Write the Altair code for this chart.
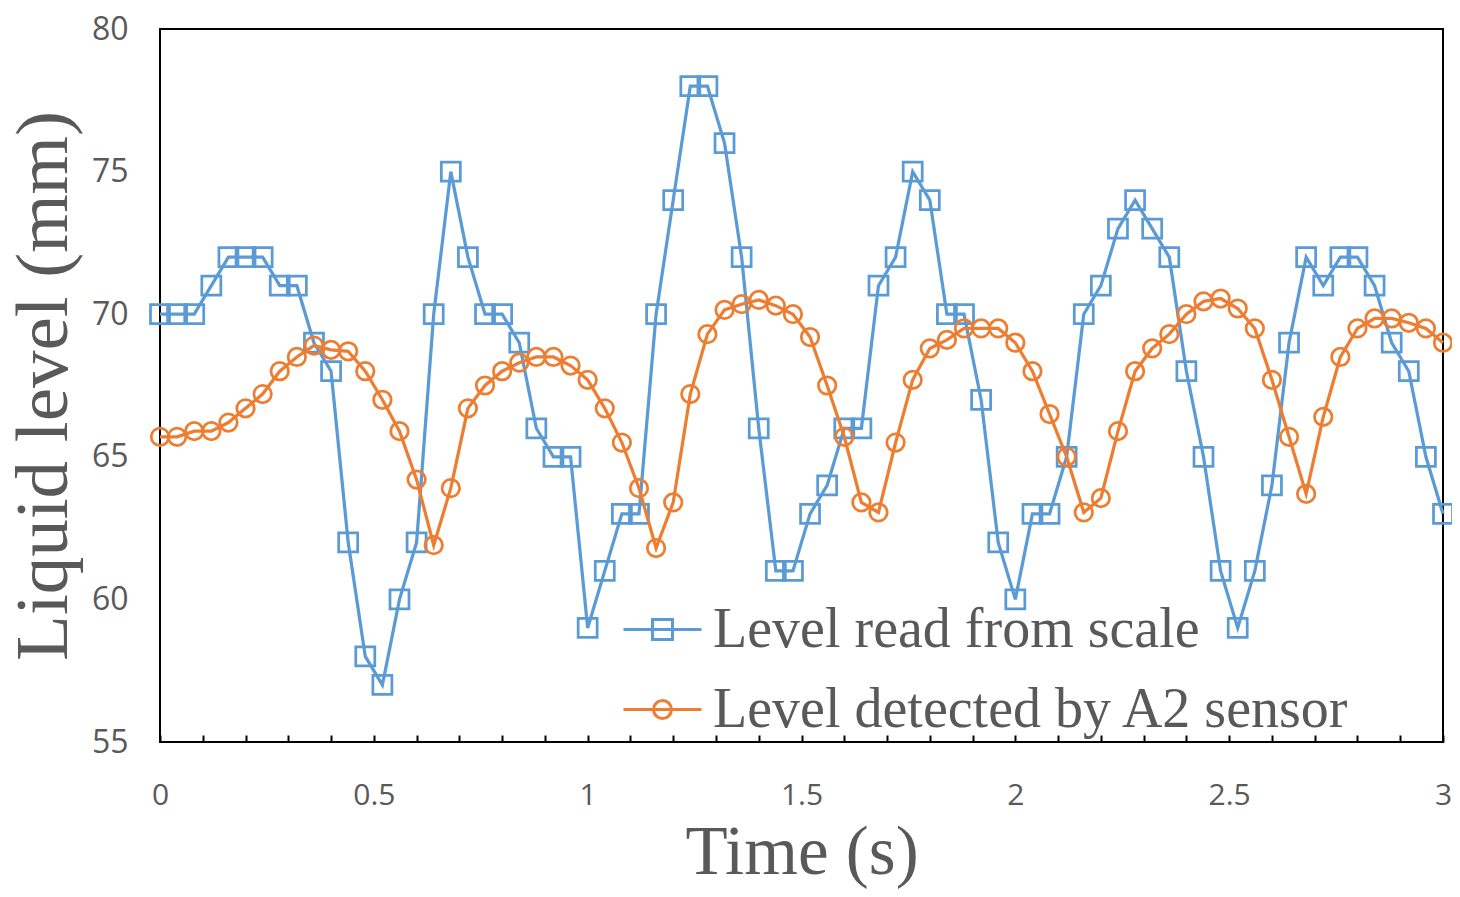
import altair as alt
import pandas as pd

time_s = [0.0, 0.04, 0.08, 0.12, 0.16, 0.2, 0.24, 0.28, 0.32, 0.36,
          0.4, 0.44, 0.48, 0.52, 0.56, 0.6, 0.64, 0.68, 0.72, 0.76,
          0.8, 0.84, 0.88, 0.92, 0.96, 1.0, 1.04, 1.08, 1.12, 1.16,
          1.2, 1.24, 1.28, 1.32, 1.36, 1.4, 1.44, 1.48, 1.52, 1.56,
          1.6, 1.64, 1.68, 1.72, 1.76, 1.8, 1.84, 1.88, 1.92, 1.96,
          2.0, 2.04, 2.08, 2.12, 2.16, 2.2, 2.24, 2.28, 2.32, 2.36,
          2.4, 2.44, 2.48, 2.52, 2.56, 2.6, 2.64, 2.68, 2.72, 2.76,
          2.8, 2.84, 2.88, 2.92, 2.96, 3.0]

level_scale = [70, 70, 70, 71, 72, 72, 72, 71, 71, 69,
               68, 62, 58, 57, 60, 62, 70, 75, 72, 70,
               70, 69, 66, 65, 65, 59, 61, 63, 63, 70,
               74, 78, 78, 76, 72, 66, 61, 61, 63, 64,
               66, 66, 71, 72, 75, 74, 70, 70, 67, 62,
               60, 63, 63, 65, 70, 71, 73, 74, 73, 72,
               68, 65, 61, 59, 61, 64, 69, 72, 71, 72,
               72, 71, 69, 68, 65, 63]

level_sensor = [65.7, 65.7, 65.9, 65.9, 66.2, 66.7, 67.2, 68.0, 68.5, 68.9,
                68.75, 68.7, 68.0, 67.0, 65.9, 64.2, 61.9, 63.9, 66.7, 67.5,
                68.0, 68.3, 68.5, 68.5, 68.2, 67.7, 66.7, 65.5, 63.9, 61.8,
                63.4, 67.2, 69.3, 70.15, 70.35, 70.5, 70.3, 70.0, 69.2, 67.5,
                65.7, 63.4, 63.05, 65.5, 67.7, 68.8, 69.1, 69.5, 69.5, 69.5,
                69.0, 68.0, 66.5, 65.0, 63.05, 63.55, 65.9, 68.0, 68.8, 69.3,
                70.0, 70.45, 70.55, 70.2, 69.5, 67.7, 65.7, 63.7, 66.4, 68.5,
                69.5, 69.85, 69.85, 69.7, 69.5, 69.0]

series_names = ["Level read from scale", "Level detected by A2 sensor"]
series_colors = ["#5B9BD5", "#ED7D31"]

x_tick_values = [0.0, 0.1, 0.2, 0.3, 0.4, 0.5, 0.6, 0.7, 0.8, 0.9, 1.0,
                 1.1, 1.2, 1.3, 1.4, 1.5, 1.6, 1.7, 1.8, 1.9, 2.0,
                 2.1, 2.2, 2.3, 2.4, 2.5, 2.6, 2.7, 2.8, 2.9, 3.0]
y_tick_values = [55, 60, 65, 70, 75, 80]

rows = []
for t, v in zip(time_s, level_scale):
    rows.append({"time": t, "level": v, "series": series_names[0]})
for t, v in zip(time_s, level_sensor):
    rows.append({"time": t, "level": v, "series": series_names[1]})
df = pd.DataFrame(rows)

GRAY = "#595959"

x_enc = alt.X(
    "time:Q",
    scale=alt.Scale(domain=[0, 3], nice=False, zero=False),
    axis=alt.Axis(
        values=x_tick_values,
        offset=-7,
        tickSize=7,
        tickWidth=2,
        tickColor="black",
        domain=False,
        grid=False,
        labelExpr="abs(datum.value * 2 - round(datum.value * 2)) < 0.001 ? format(datum.value, '~g') : ''",
        labelFont="Open Sans",
        labelFontSize=30,
        labelColor=GRAY,
        labelPadding=38,
        labelFlush=False,
        labelOverlap=False,
        title="Time (s)",
        titleFont="Liberation Serif",
        titleFontSize=69,
        titleFontWeight="normal",
        titleColor=GRAY,
        titlePadding=8,
    ),
)
y_enc = alt.Y(
    "level:Q",
    scale=alt.Scale(domain=[55, 80], nice=False, zero=False),
    axis=alt.Axis(
        values=y_tick_values,
        ticks=False,
        tickSize=0,
        domain=False,
        grid=False,
        labelFont="Open Sans",
        labelFontSize=32,
        labelColor=GRAY,
        labelPadding=32,
        labelFlush=False,
        labelOverlap=False,
        title="Liquid level (mm)",
        titleFont="Liberation Serif",
        titleFontSize=75,
        titleFontWeight="normal",
        titleColor=GRAY,
        titlePadding=9,
    ),
)

sq_path = "M-1,0H1M-0.256,-0.256H0.256V0.256H-0.256Z"
ci_path = "M-1,0H1M0.23,0A0.23,0.23,0,1,1,-0.23,0A0.23,0.23,0,1,1,0.23,0Z"


def make_legend(path, ly):
    return alt.Legend(
        orient="none",
        legendX=462,
        legendY=ly,
        title=None,
        padding=0,
        symbolSize=6084,
        symbolType=path,
        symbolStrokeWidth=3,
        symbolFillColor="transparent",
        labelFont="Liberation Serif",
        labelFontSize=56,
        labelColor=GRAY,
        labelLimit=0,
        labelOffset=10,
    )


base = alt.Chart(df)

line_a = base.transform_filter(alt.datum.series == series_names[0]).mark_line(strokeWidth=3.25).encode(
    x=x_enc, y=y_enc,
    color=alt.Color("series:N", scale=alt.Scale(domain=[series_names[0]], range=[series_colors[0]]),
                    legend=make_legend(sq_path, 560)),
)
pts_a = base.transform_filter(alt.datum.series == series_names[0]).mark_point(
    shape="square", size=361, filled=False, strokeWidth=2.75, color=series_colors[0], opacity=1
).encode(x=x_enc, y=y_enc)
line_b = base.transform_filter(alt.datum.series == series_names[1]).mark_line(strokeWidth=3.25).encode(
    x=x_enc, y=y_enc,
    stroke=alt.Stroke("series:N", scale=alt.Scale(domain=[series_names[1]], range=[series_colors[1]]),
                      legend=make_legend(ci_path, 640)),
)
pts_b = base.transform_filter(alt.datum.series == series_names[1]).mark_point(
    shape="circle", size=306, filled=False, strokeWidth=2.75, color=series_colors[1], opacity=1
).encode(x=x_enc, y=y_enc)

chart = (
    alt.layer(line_a, pts_a, line_b, pts_b)
    .properties(
        width=1283,
        height=713,
        autosize=alt.AutoSizeParams(type="none"),
        padding={"left": 152, "top": 21, "right": 9, "bottom": 147},
    )
    .configure_view(stroke="black", strokeWidth=2)
)

chart.save("out.html", embed_options={"renderer": "svg", "actions": False})
